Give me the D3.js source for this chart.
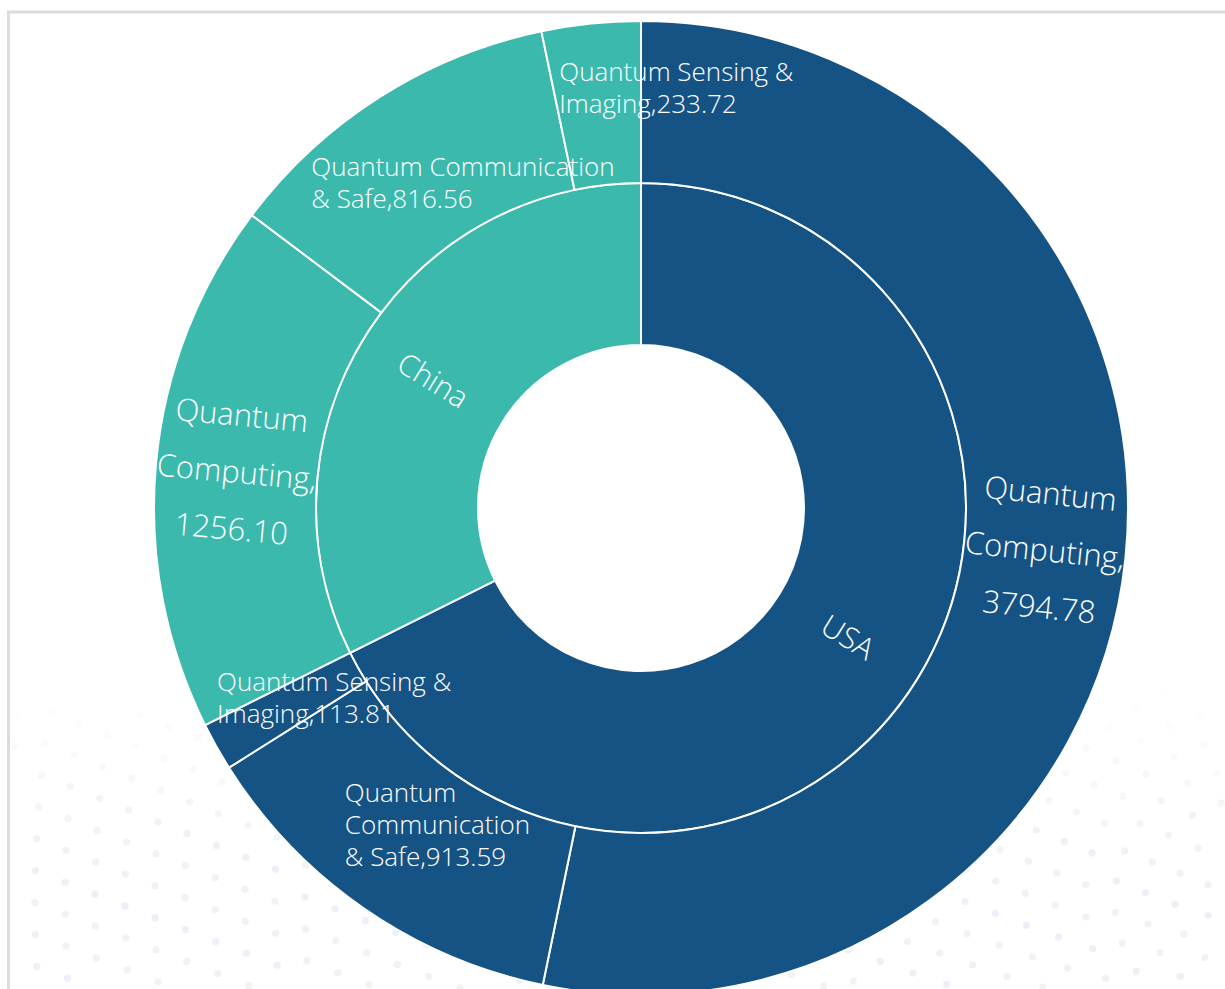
<!DOCTYPE html>
<html>
<head>
<meta charset="utf-8">
<script src="https://cdn.jsdelivr.net/npm/d3@7/dist/d3.min.js"></script>
<style>
  html, body { margin: 0; padding: 0; background: #fff; }
  svg { display: block; }
  text { font-family: "Open Sans", "Noto Sans", sans-serif; font-weight: 300; }
</style>
</head>
<body>
<svg id="chart" width="1225" height="989"></svg>
<script>
// ---- data ----
const countries = ["USA", "China"];
const fields = ["Quantum Computing", "Quantum Communication & Safe", "Quantum Sensing & Imaging"];
const usaValues = [3794.78, 913.59, 113.81];
const chinaValues = [1256.10, 816.56, 233.72];
const seriesValues = [usaValues, chinaValues];

// ---- styles / layout (not data) ----
const countryColors = { "USA": "#165385", "China": "#3cb9ad" };
const outerLabelLayout = {
  "USA|Quantum Computing":            { rotate: true,  size: 31, lh: 57, maxChars: 10 },
  "USA|Quantum Communication & Safe": { rotate: false, size: 26, lh: 32, maxChars: 13, dx: -65, dy: -50 },
  "USA|Quantum Sensing & Imaging":    { rotate: false, size: 26, lh: 32, maxChars: 17, dx: -70, dy: -26 },
  "China|Quantum Computing":            { rotate: true,  size: 31, lh: 57, maxChars: 10 },
  "China|Quantum Communication & Safe": { rotate: false, size: 26, lh: 32, maxChars: 21, dx: -112, dy: 1 },
  "China|Quantum Sensing & Imaging":    { rotate: false, size: 26, lh: 32, maxChars: 17, dx: -40, dy: -33 }
};

const W = 1225, H = 989;
const cx = 641, cy = 508;
const svg = d3.select("#chart");

// frame border
svg.append("rect")
  .attr("x", 8.5).attr("y", 12)
  .attr("width", W + 50).attr("height", H + 50)
  .attr("fill", "#fff").attr("stroke", "#dcdcdc").attr("stroke-width", 3);

// decorative dot background (faint)
const dots = svg.append("g");
const F = [1245, 900];
for (let r = 40; r < 1400; r += 30) {
  const n = Math.max(6, Math.round(2 * Math.PI * r / 32));
  const off = (r / 30) * 0.37;
  for (let k = 0; k < n; k++) {
    const a = (k + off) / n * 2 * Math.PI;
    const x = F[0] + r * Math.cos(a), y = F[1] + r * Math.sin(a);
    if (x < 12 || x > W || y < 690 || y > H) continue;
    const alpha = 0.32 * Math.min(1, (y - 690) / 160);
    dots.append("circle").attr("cx", x).attr("cy", y).attr("r", 3.6)
      .attr("fill", (k % 3 === 0) ? "#c9cde8" : "#d6d8de").attr("fill-opacity", alpha);
  }
}

// hierarchy
const rootData = {
  name: "root",
  children: countries.map((c, i) => ({
    name: c,
    children: fields.map((f, j) => ({ name: f, value: seriesValues[i][j] }))
  }))
};
const root = d3.hierarchy(rootData).sum(d => d.value || 0);
d3.partition().size([2 * Math.PI, 3])(root);

const rScale = d3.scaleLinear().domain([1, 3]).range([163, 487]);
const arc = d3.arc()
  .startAngle(d => d.x0).endAngle(d => d.x1)
  .innerRadius(d => rScale(d.y0)).outerRadius(d => rScale(d.y1));

const g = svg.append("g").attr("transform", `translate(${cx},${cy})`);
const nodes = root.descendants().filter(d => d.depth > 0);

g.selectAll("path").data(nodes).join("path")
  .attr("d", arc)
  .attr("fill", d => countryColors[d.depth === 1 ? d.data.name : d.parent.data.name])
  .attr("stroke", "#fff").attr("stroke-width", 2);

function midPoint(d) {
  const a = (d.x0 + d.x1) / 2;
  const r = (rScale(d.y0) + rScale(d.y1)) / 2;
  return { x: r * Math.sin(a), y: -r * Math.cos(a), a };
}
function radialRotation(a) {
  let deg = (a * 180 / Math.PI) - 90;
  if (deg > 90) deg -= 180;
  if (deg < -90) deg += 180;
  return deg;
}
function wrapChars(str, maxChars) {
  const tokens = [];
  str.split(" ").forEach(w => {
    const parts = w.split(/(?<=,)/);
    parts.forEach((p, i) => tokens.push({ t: p, glue: i > 0 ? "" : " " }));
  });
  const lines = [];
  let cur = "";
  tokens.forEach(tk => {
    if (cur === "") { cur = tk.t; return; }
    const cand = cur + tk.glue + tk.t;
    if (cand.length <= maxChars) cur = cand;
    else { lines.push(cur); cur = tk.t; }
  });
  if (cur) lines.push(cur);
  return lines;
}

// inner labels
nodes.filter(d => d.depth === 1).forEach(d => {
  const p = midPoint(d);
  g.append("text")
    .attr("transform", `translate(${p.x},${p.y}) rotate(${radialRotation(p.a)})`)
    .attr("text-anchor", "middle").attr("dominant-baseline", "central")
    .attr("fill", "#fff").attr("font-size", 30)
    .text(d.data.name);
});

// outer labels
nodes.filter(d => d.depth === 2).forEach(d => {
  const key = d.parent.data.name + "|" + d.data.name;
  const L = outerLabelLayout[key];
  const p = midPoint(d);
  const lines = wrapChars(`${d.data.name},${d.value.toFixed(2)}`, L.maxChars);
  if (L.rotate) {
    const t = g.append("text")
      .attr("transform", `translate(${p.x},${p.y}) rotate(${radialRotation(p.a)})`)
      .attr("text-anchor", "middle").attr("fill", "#fff").attr("font-size", L.size);
    lines.forEach((ln, i) => {
      t.append("tspan").attr("x", 0)
        .attr("y", (i - (lines.length - 1) / 2) * L.lh)
        .attr("dominant-baseline", "central").text(ln);
    });
  } else {
    const t = g.append("text")
      .attr("text-anchor", "start").attr("fill", "#fff").attr("font-size", L.size);
    lines.forEach((ln, i) => {
      t.append("tspan").attr("x", p.x + L.dx)
        .attr("y", p.y + L.dy + i * L.lh)
        .attr("dominant-baseline", "central").text(ln);
    });
  }
});
</script>
</body>
</html>
